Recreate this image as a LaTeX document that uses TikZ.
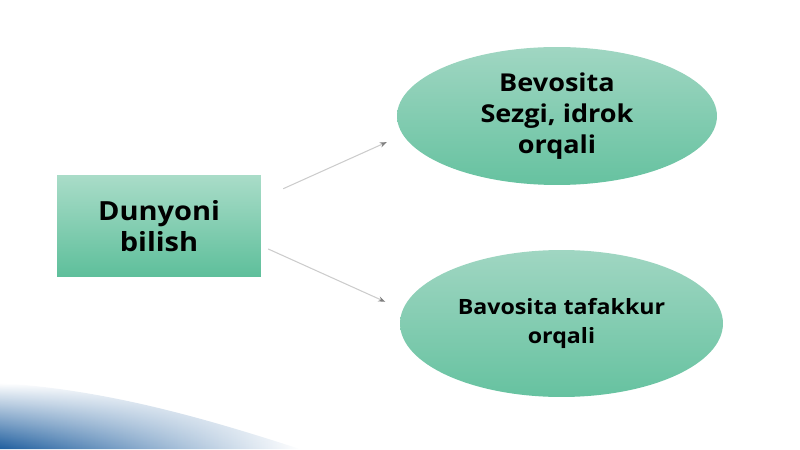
\documentclass[tikz,border=0pt]{standalone}
\usepackage{fontspec}
\setmainfont{Open Sans}
\newfontfamily\widesans[FakeStretch=1.1]{Open Sans}
\usetikzlibrary{shapes.geometric,arrows.meta,fadings}

\definecolor{boxtop}{HTML}{A9DCC8}
\definecolor{boxbot}{HTML}{5EBF9B}
\definecolor{elltop}{HTML}{A0D6C2}
\definecolor{ellbot}{HTML}{66C2A0}
\definecolor{bandblue}{HTML}{1F5E9E}

\begin{document}
\begin{tikzpicture}[x=0.02cm, y=-0.02cm,
    box/.style={rectangle, top color=boxtop, bottom color=boxbot, minimum width=4.08cm, minimum height=2.02cm, align=center, font=\widesans\bfseries\fontsize{15}{17.4}\selectfont},
    oval/.style={ellipse, top color=elltop, bottom color=ellbot, inner sep=0pt, align=center},
    conn/.style={gray!40, line width=0.6pt, -{Stealth[length=4pt, width=3pt, gray]}}]
    \useasboundingbox (0,0) rectangle (800,449);

    \shade[left color=bandblue, right color=white, path fading=north]
        (0,449) -- (0,383) .. controls (110,390) and (210,420) .. (300,449) -- cycle; %band

    \node[box] (dunyo) at (159,226) {Dunyoni\\bilish};
    \node[oval, minimum width=6.4cm, minimum height=2.76cm, font=\widesans\bfseries\fontsize{14}{17.6}\selectfont] (sezgi) at (557,116) {Bevosita\\Sezgi, idrok\\orqali};
    \node[oval, minimum width=6.46cm, minimum height=2.94cm, font=\widesans\bfseries\fontsize{12}{16.4}\selectfont] (tafakkur) at (561.5,323.5) {Bavosita tafakkur\\orqali};

    \draw[conn, shorten <=0.48cm, shorten >=0.35cm] (dunyo.15) -- (sezgi.187);
    \draw[conn, shorten <=0.15cm, shorten >=0.38cm] (dunyo.-11) -- (tafakkur.175);
\end{tikzpicture}
\end{document}
